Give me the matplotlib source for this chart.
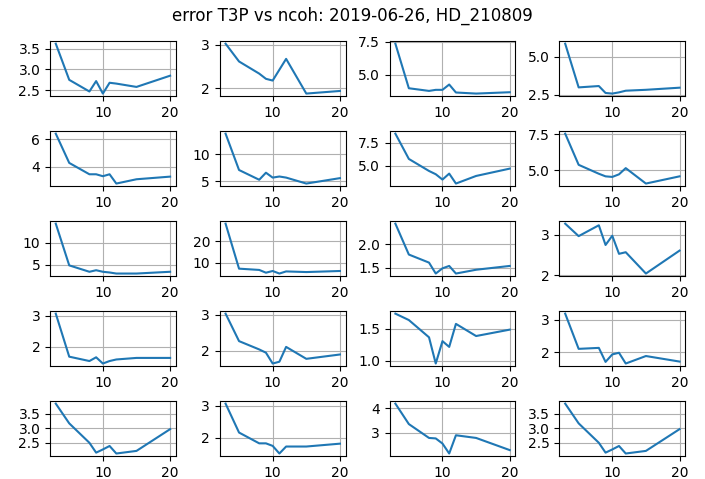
import matplotlib
matplotlib.use('Agg')
import matplotlib.pyplot as plt

# ncoh values
ncoh = [3, 5, 8, 9, 10, 11, 12, 15, 20]

# error T3P per panel, row by row
err_00 = [3.62, 2.75, 2.47, 2.72, 2.42, 2.68, 2.66, 2.58, 2.85]
err_01 = [3.03, 2.62, 2.34, 2.22, 2.18, 2.43, 2.68, 1.88, 1.94]
err_02 = [7.35, 4.00, 3.80, 3.88, 3.88, 4.28, 3.68, 3.60, 3.70]
err_03 = [5.88, 2.98, 3.07, 2.61, 2.57, 2.65, 2.76, 2.82, 2.96]
err_10 = [6.40, 4.29, 3.47, 3.47, 3.33, 3.47, 2.80, 3.11, 3.30]
err_11 = [13.8, 7.1, 5.3, 6.6, 5.7, 5.9, 5.7, 4.6, 5.6]
err_12 = [8.53, 5.74, 4.41, 4.05, 3.46, 4.12, 3.02, 3.86, 4.67]
err_13 = [7.55, 5.39, 4.77, 4.59, 4.55, 4.73, 5.16, 4.09, 4.59]
err_20 = [14.3, 4.85, 3.40, 3.75, 3.40, 3.24, 3.00, 3.00, 3.40]
err_21 = [28.3, 7.1, 6.5, 5.2, 6.0, 4.8, 5.8, 5.5, 6.0]
err_22 = [2.43, 1.78, 1.61, 1.38, 1.49, 1.54, 1.38, 1.46, 1.54]
err_23 = [3.28, 2.97, 3.24, 2.75, 2.98, 2.53, 2.57, 2.04, 2.61]
err_30 = [3.06, 1.68, 1.54, 1.66, 1.46, 1.54, 1.59, 1.64, 1.64]
err_31 = [3.03, 2.27, 2.04, 1.95, 1.65, 1.70, 2.11, 1.78, 1.90]
err_32 = [1.74, 1.64, 1.37, 0.96, 1.31, 1.22, 1.58, 1.39, 1.49]
err_33 = [3.18, 2.10, 2.13, 1.70, 1.93, 1.98, 1.65, 1.88, 1.71]
err_40 = [3.85, 3.17, 2.50, 2.16, 2.27, 2.39, 2.13, 2.22, 2.97]
err_41 = [3.07, 2.16, 1.82, 1.82, 1.74, 1.50, 1.72, 1.72, 1.81]
err_42 = [4.20, 3.36, 2.79, 2.77, 2.56, 2.15, 2.90, 2.79, 2.29]
err_43 = [3.85, 3.17, 2.50, 2.16, 2.27, 2.39, 2.13, 2.22, 2.97]

errors = [err_00, err_01, err_02, err_03,
          err_10, err_11, err_12, err_13,
          err_20, err_21, err_22, err_23,
          err_30, err_31, err_32, err_33,
          err_40, err_41, err_42, err_43]

fig, axes = plt.subplots(5, 4, figsize=(7.05, 4.79), dpi=100)
for ax, err in zip(axes.flat, errors):
    ax.plot(ncoh, err)
    ax.grid(True)

fig.suptitle('error T3P vs ncoh: 2019-06-26, HD_210809', y=0.985)
fig.subplots_adjust(left=0.071, right=0.972, top=0.914, bottom=0.048,
                    wspace=0.35, hspace=0.64)
fig.savefig('out.png')
